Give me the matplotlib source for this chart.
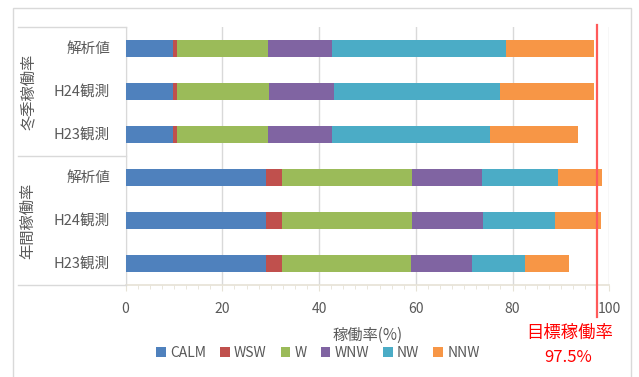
import numpy as np
import matplotlib
matplotlib.use("Agg")
import matplotlib.pyplot as plt
from matplotlib.patches import Rectangle, Patch
from matplotlib.lines import Line2D

plt.rcParams['font.family'] = ['Noto Sans CJK JP', 'DejaVu Sans']

# 風向別の稼働率 (%)
categories = ["解析値", "H24観測", "H23観測", "解析値", "H24観測", "H23観測"]
groups = ["冬季稼働率", "年間稼働率"]
directions = ["CALM", "WSW", "W", "WNW", "NW", "NNW"]
calm = [9.9, 9.9, 9.9, 29.0, 29.0, 29.0]
wsw = [0.7, 0.8, 0.7, 3.4, 3.4, 3.4]
w = [18.8, 19.0, 18.8, 26.8, 26.8, 26.7]
wnw = [13.3, 13.4, 13.2, 14.4, 14.6, 12.6]
nw = [36.0, 34.4, 32.8, 15.7, 14.9, 10.8]
nnw = [18.2, 19.4, 18.2, 9.2, 9.6, 9.1]
target = 97.5

colors = ["#4F81BD", "#C0504D", "#9BBB59", "#8064A2", "#4BACC6", "#F79646"]
grid_c = "#d9d9d9"
text_c = "#595959"

fig = plt.figure(figsize=(6.39, 3.77), dpi=100)
W, H = 639, 377
x0, x1, y0, y1 = 125.6, 609.3, 27, 285
ax = fig.add_axes([x0 / W, 1 - y1 / H, (x1 - x0) / W, (y1 - y0) / H])

series = [calm, wsw, w, wnw, nw, nnw]
ypos = np.arange(len(categories))
left = np.zeros(len(categories))
for vals, c in zip(series, colors):
    ax.barh(ypos, vals, left=left, height=0.4, color=c, zorder=3)
    left += np.array(vals)

ax.set_xlim(0, 100)
ax.set_ylim(len(categories) - 0.5, -0.5)
ax.set_xticks(np.arange(0, 101, 20))
ax.set_xticks(np.arange(0, 101, 2.5), minor=True)
ax.set_yticks([])
ax.grid(axis="x", color=grid_c, linewidth=1.0, zorder=0)
for s in ["top", "right"]:
    ax.spines[s].set_visible(False)
ax.spines["left"].set_color(grid_c)
ax.spines["bottom"].set_color("#e6e2d6")
ax.spines["bottom"].set_linewidth(1.2)
ax.tick_params(axis="x", which="both", colors="#e6e2d6", labelcolor=text_c,
               labelsize=10, direction="out", pad=8)
ax.tick_params(axis="x", which="major", length=4)
ax.tick_params(axis="x", which="minor", length=3)
ax.set_xlabel("稼働率(%)", fontsize=11, color=text_c, labelpad=8)

# カテゴリラベル
for yp, cat in zip(ypos, categories):
    cy = 1 - (y0 + (yp + 0.5) * (y1 - y0) / 6) / H
    fig.text(110 / W, cy, cat, fontsize=10.5, color=text_c,
             ha="right", va="center")

# グループラベルと区切り線
for i, g in enumerate(groups):
    cy = 1 - (y0 + (i * 3 + 1.5) * (y1 - y0) / 6) / H
    fig.text(28 / W, cy, g, rotation=90, fontsize=11, color=text_c,
             ha="center", va="center")
for yy in [y0, (y0 + y1) / 2, y1]:
    fig.add_artist(Line2D([18 / W, x0 / W], [1 - yy / H, 1 - yy / H],
                          color=grid_c, linewidth=1.0))

# 目標稼働率
bot = ((1 - 317 / H) - (1 - y1 / H)) / ((y1 - y0) / H)
top = ((1 - 25 / H) - (1 - y1 / H)) / ((y1 - y0) / H)
ax.axvline(target, ymin=bot, ymax=top, color="#ff5a5a", linewidth=1.6,
           clip_on=False, zorder=5)
fig.text(570 / W, 1 - 333 / H, "目標稼働率", color="#ff0000", fontsize=12.5,
         ha="center", va="center")
fig.text(568 / W, 1 - 357 / H, f"{target}%", color="#ff0000", fontsize=12,
         ha="center", va="center")

# 凡例
handles = [Patch(facecolor=c, label=d) for c, d in zip(colors, directions)]
leg = fig.legend(handles=handles, loc="center", bbox_to_anchor=(318 / W, 1 - 353 / H),
                 ncol=6, frameon=False, fontsize=10, handlelength=0.7,
                 handleheight=0.7, handletextpad=0.3, columnspacing=1.0)
for t in leg.get_texts():
    t.set_color(text_c)

# 外枠
fig.add_artist(Rectangle((13 / W, -0.05), (631 - 13) / W, 1.05 - 8 / H,
                         transform=fig.transFigure, fill=False,
                         edgecolor=grid_c, linewidth=1.0))

fig.savefig("out.png", dpi=100)
